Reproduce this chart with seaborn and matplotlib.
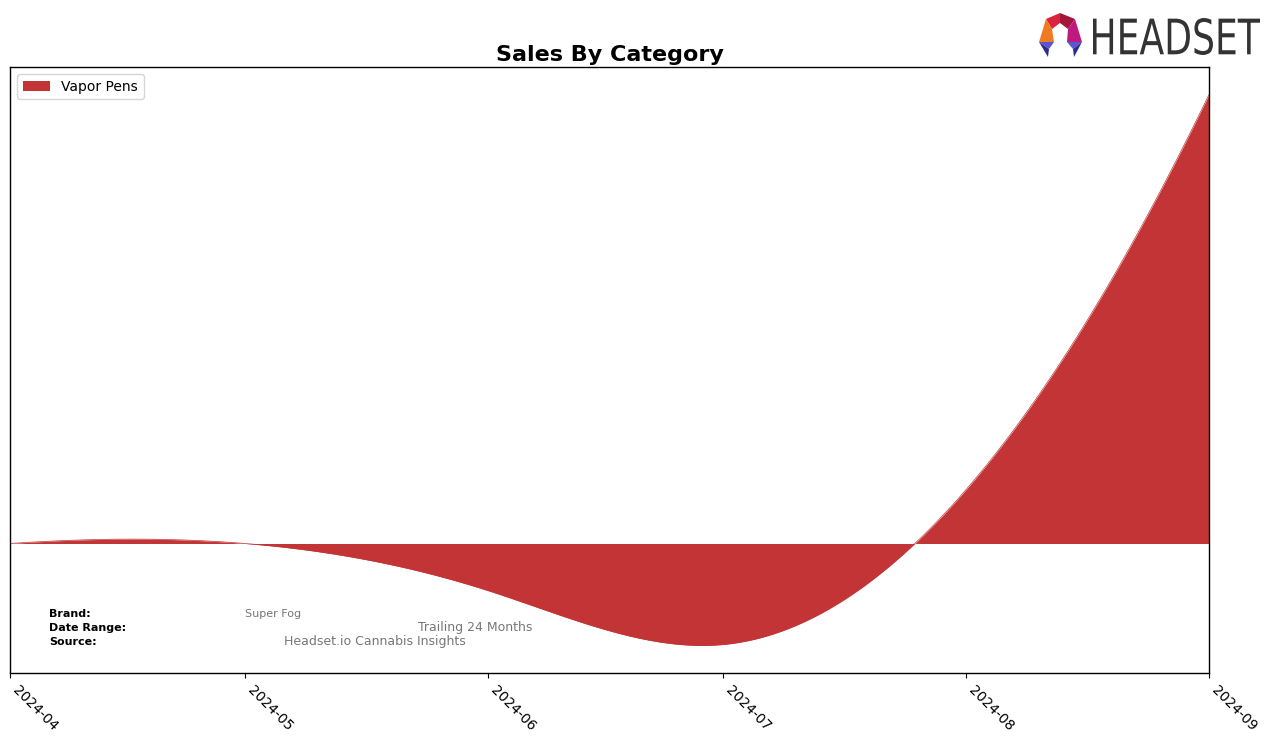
import numpy as np
import pandas as pd
import matplotlib
matplotlib.use("Agg")
import matplotlib.pyplot as plt
import matplotlib.dates as mdates
import matplotlib.transforms as mtransforms
from matplotlib.patches import Polygon, PathPatch
from matplotlib.textpath import TextPath
from matplotlib.font_manager import FontProperties
import seaborn as sns

# ---- data (arbitrary units, y axis unlabeled) ----
months = ["2024-04-01", "2024-05-01", "2024-06-01", "2024-07-01", "2024-08-01", "2024-09-01"]
vapor_pens = [0.0, 0.0, -1050.0, -2250.0, 1200.0, 10000.0]
category = "Vapor Pens"
tick_labels = ["2024-04", "2024-05", "2024-06", "2024-07", "2024-08", "2024-09"]
brand = "Super Fog"
date_range = "Trailing 24 Months"
source = "Headset.io Cannabis Insights"

FILL = "#c23435"

sns.set_style("ticks", {"axes.edgecolor": "black", "axes.spines.right": True,
                        "axes.spines.top": True, "text.color": "black",
                        "xtick.color": "black", "ytick.color": "black",
                        "axes.labelcolor": "black"})
plt.rcParams["font.family"] = ["DejaVu Sans"]


def not_a_knot_spline(x, y, xs):
    x = np.asarray(x, float); y = np.asarray(y, float)
    n = len(x); h = np.diff(x)
    A = np.zeros((n, n)); b = np.zeros(n)
    A[0, 0] = -h[1]; A[0, 1] = h[0] + h[1]; A[0, 2] = -h[0]
    for i in range(1, n - 1):
        A[i, i - 1] = h[i - 1]; A[i, i] = 2 * (h[i - 1] + h[i]); A[i, i + 1] = h[i]
        b[i] = 6 * ((y[i + 1] - y[i]) / h[i] - (y[i] - y[i - 1]) / h[i - 1])
    A[-1, -3] = -h[-1]; A[-1, -2] = h[-2] + h[-1]; A[-1, -1] = -h[-2]
    M = np.linalg.solve(A, b)
    idx = np.clip(np.searchsorted(x, xs) - 1, 0, n - 2)
    x0 = x[idx]; x1 = x[idx + 1]; hh = x1 - x0
    return (M[idx] * (x1 - xs) ** 3 / (6 * hh) + M[idx + 1] * (xs - x0) ** 3 / (6 * hh)
            + (y[idx] / hh - M[idx] * hh / 6) * (x1 - xs)
            + (y[idx + 1] / hh - M[idx + 1] * hh / 6) * (xs - x0))


dates = pd.to_datetime(months)
xnum = mdates.date2num(dates)
xs = np.linspace(xnum[0], xnum[-1], 600)
ys = not_a_knot_spline(xnum, vapor_pens, xs)
df = pd.DataFrame({"date": mdates.num2date(xs), "value": ys})
df["date"] = pd.to_datetime(df["date"]).dt.tz_localize(None)

fig = plt.figure(figsize=(12.76, 7.43), dpi=100)
ax = fig.add_axes([10 / 1276, 1 - 673 / 743, 1199 / 1276, 606 / 743])

sns.lineplot(data=df, x="date", y="value", color=FILL, linewidth=0.5, ax=ax, legend=False)
ax.fill_between(df["date"], 0, df["value"], color=FILL, linewidth=0, label=category)

ax.set_xlim(dates[0], dates[-1])
ax.set_xticks(dates)
ax.set_xticklabels(tick_labels, rotation=-45, ha="left", fontsize=10)
ax.set_yticks([])
ax.set_xlabel(""); ax.set_ylabel("")
ax.set_title("Sales By Category", fontsize=16, fontweight="bold", pad=4, color="black")
for s in ax.spines.values():
    s.set_color("black"); s.set_linewidth(1)

ax.legend(loc="upper left", frameon=True, fontsize=10, handlelength=2)

# info text
def fx(px): return px / 1276
def fy(py): return 1 - py / 743
fig.text(fx(49), fy(614), "Brand:", fontsize=8, fontweight="bold", va="center", color="black")
fig.text(fx(49), fy(628), "Date Range:", fontsize=8, fontweight="bold", va="center", color="black")
fig.text(fx(49), fy(642), "Source:", fontsize=8, fontweight="bold", va="center", color="black")
fig.text(fx(245), fy(614), brand, fontsize=8, color="#777777", va="center")
fig.text(fx(418), fy(628), date_range, fontsize=9, color="#777777", va="center")
fig.text(fx(284), fy(642), source, fontsize=9, color="#777777", va="center")

# logo
segs = [
    ([(1046, 19), (1060, 13), (1060, 23), (1052, 29)], "#d8243c"),
    ([(1060, 13), (1075, 19), (1068, 29), (1060, 23)], "#a3173a"),
    ([(1046, 19), (1052, 29), (1054, 42), (1039, 42)], "#f07a24"),
    ([(1075, 19), (1082, 42), (1067, 42), (1068, 29)], "#c01a80"),
    ([(1039, 42), (1054, 42), (1049, 49)], "#5a55d0"),
    ([(1039, 42), (1049, 49), (1048, 57)], "#2e2c8a"),
    ([(1067, 42), (1082, 42), (1073, 49)], "#5a55d0"),
    ([(1082, 42), (1073, 49), (1074, 57)], "#2e2c8a"),
]
for pts, c in segs:
    fig.patches.append(Polygon([(fx(a), fy(b)) for a, b in pts], closed=True,
                               transform=fig.transFigure, facecolor=c, edgecolor="none"))

tp = TextPath((0, 0), "HEADSET", size=1, prop=FontProperties(family="DejaVu Sans"))
bb = tp.get_extents()
tr = (mtransforms.Affine2D()
      .translate(-bb.x0, -bb.y0)
      .scale(167 / bb.width / 1276, 37 / bb.height / 743)
      .translate(fx(1093), fy(55))) + fig.transFigure
fig.patches.append(PathPatch(tp, transform=tr, facecolor="#333333", edgecolor="none"))

fig.savefig("out.png", dpi=100)
